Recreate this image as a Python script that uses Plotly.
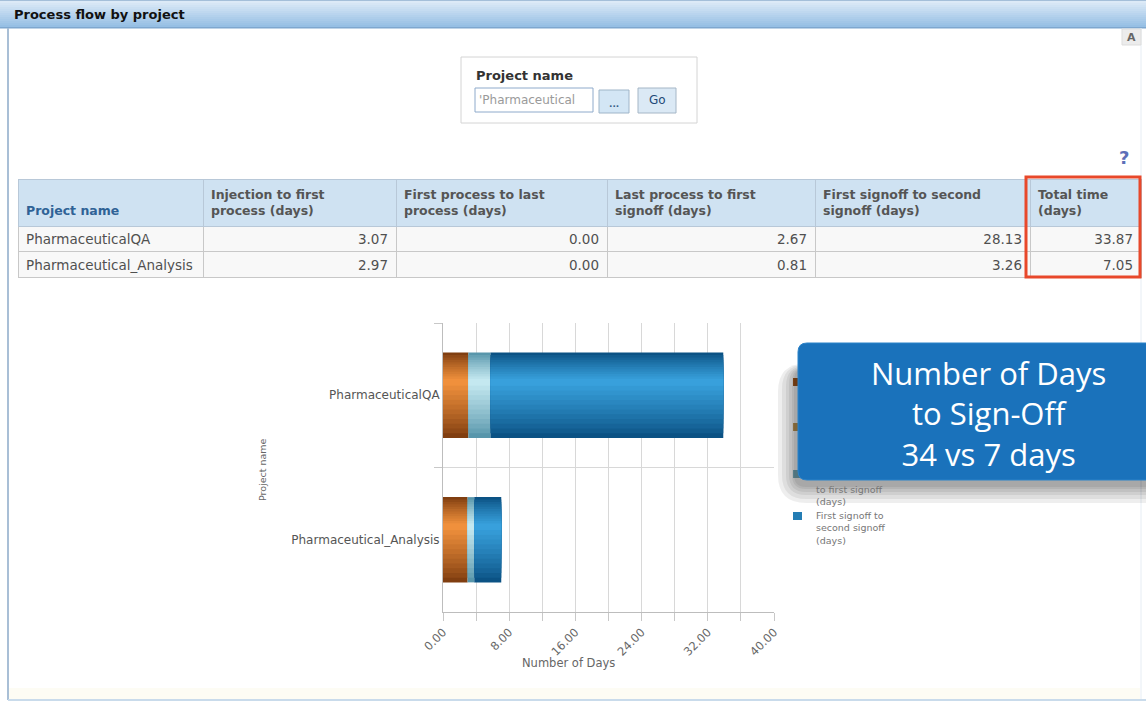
import numpy as np
import plotly.graph_objects as go

# ---------------- data ----------------
projects = ["PharmaceuticalQA", "Pharmaceutical_Analysis"]
injection_to_first_process = [3.07, 2.97]
first_process_to_last_process = [0.00, 0.00]
last_process_to_first_signoff = [2.67, 0.81]
first_signoff_to_second_signoff = [28.13, 3.26]
total_time = [33.87, 7.05]

series_names = [
    "Injection to first process (days)",
    "First process to last process (days)",
    "Last process to first signoff (days)",
    "First signoff to second signoff (days)",
]
table_headers = [
    "Project name",
    "Injection to first|process (days)",
    "First process to last|process (days)",
    "Last process to first|signoff (days)",
    "First signoff to second|signoff (days)",
    "Total time|(days)",
]
x_tick_step = 8
x_max = 40

# ---------------- helpers ----------------
W, H = 1146, 702


def xp(px):
    return px / W


def yp(py):
    return 1 - py / H


FONT = "DejaVu Sans"

fig = go.Figure()

# ---------------- stacked bars with a shaded (stepped) gradient ----------------
series_values = [
    injection_to_first_process,
    first_process_to_last_process,
    last_process_to_first_signoff,
    first_signoff_to_second_signoff,
]
edge_colors = [(0x80, 0x3e, 0x10), (0xa0, 0x74, 0x36), (0x58, 0x96, 0xab), (0x0b, 0x52, 0x84)]
high_colors = [(0xf0, 0x90, 0x3c), (0xea, 0xc4, 0x80), (0xc4, 0xe8, 0xf0), (0x38, 0xa0, 0xdc)]
N_LAYERS = 12
BAR_W = 0.59


def mix(a, b, t):
    return "rgb(%d,%d,%d)" % tuple(int(round(a[i] + (b[i] - a[i]) * t)) for i in range(3))


bases = np.vstack([np.zeros(len(projects)), np.cumsum(np.array(series_values), axis=0)[:-1]])
for s, vals in enumerate(series_values):
    for k in range(N_LAYERS):
        t = k / (N_LAYERS - 1)
        w = BAR_W * (1 - 0.92 * t)
        shift = -0.09 * t
        fig.add_trace(go.Bar(
            y=projects, x=vals, base=list(bases[s]), orientation="h",
            width=w, offset=shift - w / 2,
            marker=dict(color=mix(edge_colors[s], high_colors[s], t ** 0.85), line=dict(width=0)),
            name=series_names[s], showlegend=False, hoverinfo="skip",
        ))

# ---------------- table ----------------
hdr = []
for i, h in enumerate(table_headers):
    parts = h.split("|")
    if len(parts) == 1:
        hdr.append(" <br><b>%s</b>" % parts[0])
    else:
        hdr.append("<br>".join("<b>%s</b>" % p for p in parts))

cols = [projects] + [["%.2f" % v for v in c] for c in series_values] + [["%.2f" % v for v in total_time]]
fig.add_trace(go.Table(
    domain=dict(x=[xp(18), xp(1141)], y=[yp(285), yp(179)]),
    columnwidth=[185, 193, 211, 208, 215, 111],
    header=dict(
        values=hdr, height=43, align="left",
        fill_color="#cfe2f2", line=dict(color="#b8c8d8", width=1),
        font=dict(family=FONT, size=12.5, color=["#2f6296"] + ["#555555"] * 5),
    ),
    cells=dict(
        values=cols, height=25.5,
        align=["left", "right", "right", "right", "right", "right"],
        fill_color="#f8f8f8", line=dict(color="#c8c8c8", width=1),
        font=dict(family=FONT, size=13.5, color="#505050"),
    ),
))

shapes = []
annotations = []


def note(text, x, y, size, color, family=FONT, xanchor="center", yanchor="middle", **kw):
    annotations.append(dict(text=text, x=xp(x), y=yp(y), xref="paper", yref="paper",
                            xanchor=xanchor, yanchor=yanchor, showarrow=False,
                            font=dict(family=family, size=size, color=color), **kw))


def rect(x0, y0, x1, y1, fill, line_color=None, lw=1, layer="above"):
    shapes.append(dict(type="rect", xref="paper", yref="paper", x0=xp(x0), x1=xp(x1), y0=yp(y1), y1=yp(y0),
                       fillcolor=fill, line=dict(color=line_color or "rgba(0,0,0,0)", width=lw if line_color else 0),
                       layer=layer))


# title bar (gradient bands)
title_top, title_bot = (0xdc, 0xea, 0xf7), (0x96, 0xbf, 0xe4)
n_b = 13
for i in range(n_b):
    rect(0, 1 + 2 * i, W, 3 + 2 * i, mix(title_top, title_bot, i / (n_b - 1)), layer="below")
rect(0, 0, W, 1, "#a4bfd9", layer="below")
rect(0, 27, W, 28.5, "#7ea7cf", layer="below")
note("<b>Process flow by project</b>", 12, 14, 13, "#111111", xanchor="left")

# panel borders
shapes.append(dict(type="line", xref="paper", yref="paper", x0=xp(8), x1=xp(8), y0=yp(700), y1=yp(28),
                   line=dict(color="#a9bfd6", width=2), layer="below"))
shapes.append(dict(type="line", xref="paper", yref="paper", x0=xp(1141), x1=xp(1141), y0=yp(700), y1=yp(28),
                   line=dict(color="#e6edf4", width=1), layer="below"))
shapes.append(dict(type="line", xref="paper", yref="paper", x0=xp(8), x1=1, y0=yp(700), y1=yp(700),
                   line=dict(color="#c9dbeb", width=2), layer="below"))
rect(9, 688, 1140, 699, "#fdfcf4", layer="below")

# collapse icon
rect(1122, 29, 1141, 45, "#ececec", "#dddddd")
note("<b>A</b>", 1131.5, 37.5, 11, "#666666")

# project name prompt panel
rect(461, 57, 697, 123, "white", "#d4d4d4")
note("<b>Project name</b>", 474, 76, 13, "#333333", xanchor="left")
rect(475, 88, 593, 112, "white", "#8eaacb")
note("'Pharmaceutical", 477, 100, 12, "#9a9a9a", xanchor="left")
rect(599, 90, 629, 113, "#d3e6f5", "#9fb5c8")
note("<b>...</b>", 614, 104, 9, "#3a5f88")
rect(638, 88, 676, 113, "#dbe9f5", "#a5b6c6")
note("Go", 657, 100.5, 12, "#1f4a78")
# help mark
note("<b>?</b>", 1124, 158, 18, "#5d6fb8")

# red highlight around total time
rect(1026, 177, 1140, 277, "rgba(0,0,0,0)", "#e8482b", 3)

# legend (mostly hidden behind the callout)
leg_sq = [(378, mix(edge_colors[0], high_colors[0], 0.35)), (423, mix(edge_colors[1], high_colors[1], 0.5)),
          (470, mix(edge_colors[2], high_colors[2], 0.35)), (512, mix(edge_colors[3], high_colors[3], 0.55))]
for top, c in leg_sq:
    rect(793, top, 802, top + 8, c)
note("to first signoff<br>(days)", 814, 482, 9.5, "#777777", xanchor="left", yanchor="top", align="left")
note("First signoff to<br>second signoff<br>(days)", 814, 508, 9.5, "#777777", xanchor="left", yanchor="top",
     align="left")


def rrect(x0, y0, x1, y1, r):
    X0, X1 = xp(x0), xp(x1)
    Y0, Y1 = yp(y0), yp(y1)
    rx, ry = r / W, r / H
    return (f"M{X0+rx},{Y0} L{X1-rx},{Y0} Q{X1},{Y0} {X1},{Y0-ry} L{X1},{Y1+ry} Q{X1},{Y1} {X1-rx},{Y1} "
            f"L{X0+rx},{Y1} Q{X0},{Y1} {X0},{Y1+ry} L{X0},{Y0-ry} Q{X0},{Y0} {X0+rx},{Y0} Z")


# callout shadow (mostly below / left)
for e in [18, 14, 10, 7, 4, 2]:
    shapes.append(dict(type="path", xref="paper", yref="paper",
                       path=rrect(798 - 2 - e, 343 + 26 - e * 0.3, 1180, 480 + 5 + e, 10 + e),
                       fillcolor="rgba(0,0,0,0.065)", line=dict(width=0)))
shapes.append(dict(type="path", xref="paper", yref="paper", path=rrect(798, 343, 1180, 480, 9),
                   fillcolor="#1a72bb", line=dict(color="#2b83c9", width=1)))
callout = "Number of Days<br>to Sign-Off<br>%d vs %d days" % (round(total_time[0]), round(total_time[1]))
note(callout, 988, 413, 31, "white", family="Open Sans", align="center")

# axis titles
note("Project name", 262, 470, 9.5, "#666666", textangle=-90)
note("Number of Days", 568, 663, 11.5, "#666666")

fig.update_layout(
    template="none",
    width=W, height=H, margin=dict(l=0, r=0, t=0, b=0, pad=0, autoexpand=False),
    paper_bgcolor="white", plot_bgcolor="white",
    barmode="overlay", showlegend=False,
    shapes=shapes, annotations=annotations,
    xaxis=dict(domain=[xp(443), xp(774)], range=[0, x_max], dtick=x_tick_step, tick0=0, automargin=False,
               tickformat=".2f", tickangle=-45, ticks="outside", ticklen=8, tickcolor="#c8c8c8",
               showgrid=True, gridcolor="#d8d8d8", zeroline=False, showline=True, linecolor="#bdbdbd",
               minor=dict(dtick=x_tick_step / 2, showgrid=True, gridcolor="#d8d8d8", ticks="outside",
                          ticklen=8, tickcolor="#c8c8c8"),
               tickfont=dict(family=FONT, size=11.5, color="#666666"), fixedrange=True),
    yaxis=dict(domain=[yp(612), yp(323)], type="category", range=[1.5, -0.5], tickson="boundaries",
               automargin=False,
               ticks="outside", ticklen=8, tickcolor="#c8c8c8", showgrid=True, gridcolor="#d8d8d8",
               showline=True, linecolor="#bdbdbd", zeroline=False,
               tickfont=dict(family=FONT, size=12, color="#555555"), fixedrange=True),
)

fig.write_html("out.html", config={"displayModeBar": False},
               post_script="document.body.style.margin='0';document.body.style.overflow='hidden';")
